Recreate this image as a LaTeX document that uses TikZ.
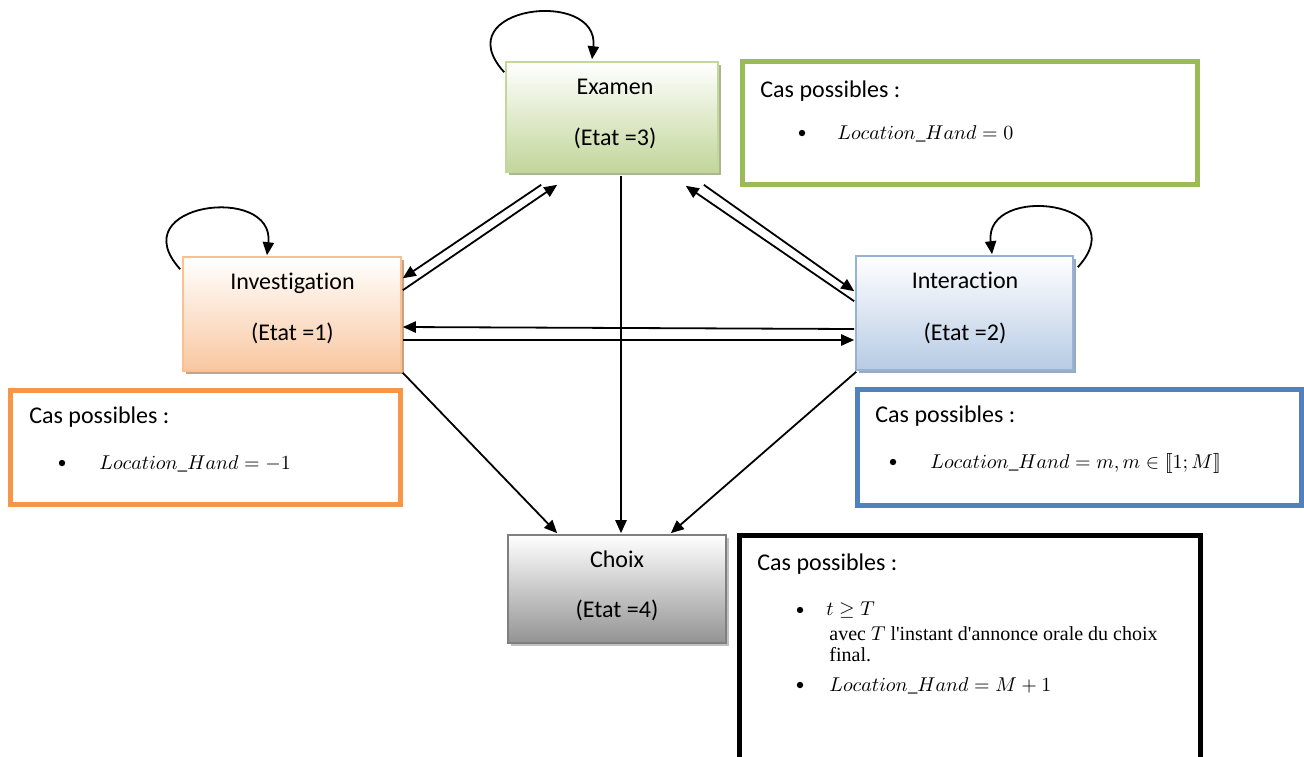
\documentclass[tikz,border=0pt]{standalone}
\usepackage{fontspec}
\setmainfont{Carlito}[Ligatures={NoCommon}]
\newfontfamily\serifnote{Liberation Serif}
\usetikzlibrary{arrows.meta,shadows,calc}

\definecolor{exline}{HTML}{C3D69B}
\definecolor{exfill}{HTML}{C2D69A}
\definecolor{exshadow}{HTML}{A8B78E}
\definecolor{invline}{HTML}{FAC08F}
\definecolor{invfill}{HTML}{F9C7A0}
\definecolor{invshadow}{HTML}{C9A283}
\definecolor{intline}{HTML}{95B3D7}
\definecolor{intfill}{HTML}{B7CBE4}
\definecolor{intshadow}{HTML}{9CA9BA}
\definecolor{chline}{HTML}{7F7F7F}
\definecolor{chfill}{HTML}{939393}
\definecolor{chshadow}{HTML}{C0C0C0}
\definecolor{casgreen}{HTML}{9BBB59}
\definecolor{casorange}{HTML}{F79646}
\definecolor{casblue}{HTML}{4F81BD}

\tikzset{
  stbox/.style n args={3}{draw=#1, line width=0.8pt, inner sep=0pt,
    top color=white, bottom color=#2,
    drop shadow={shadow xshift=1.6pt, shadow yshift=-1.6pt, fill=#3, opacity=1}},
  stlabel/.style={anchor=base, inner sep=0pt, font=\fontsize{12}{14}\selectfont},
  casbox/.style={draw=#1, line width=2.5pt, inner sep=0pt, fill=white},
  castitle/.style={anchor=base west, inner sep=0pt, font=\fontsize{12}{14}\selectfont},
  casmath/.style={anchor=base west, inner sep=0pt, font=\fontsize{9.7}{12}\selectfont},
  casnote/.style={anchor=base west, inner sep=0pt, font=\serifnote\fontsize{10}{12}\selectfont},
  bulletdot/.style={circle, fill=black, inner sep=0pt, minimum size=3.2pt},
  link/.style={draw=black, line width=0.9pt, -{Triangle[length=6.5pt, width=5.6pt]}},
}

\begin{document}
\begin{tikzpicture}[x=0.5pt, y=-0.5pt]
\clip (0,0) rectangle (1304,756);
\fill[white] (0,0) rectangle (1304,756);

% ---- state boxes ----
\node[stbox={exline}{exfill}{exshadow}, minimum width=106pt, minimum height=55pt] (ex) at (612,117) {};
\node[stbox={invline}{invfill}{invshadow}, minimum width=109pt, minimum height=57pt] (inv) at (292,314) {};
\node[stbox={intline}{intfill}{intshadow}, minimum width=108.5pt, minimum height=57pt] (int) at (964.5,313) {};
\node[stbox={chline}{chfill}{chshadow}, minimum width=109pt, minimum height=54pt] (ch) at (617,589) {};

\node[stlabel] (exname) at (615,94) {Examen};
\node[stlabel] (exstate) at (615,145) {(Etat =3)};
\node[stlabel] (invname) at (292.5,289) {Investigation};
\node[stlabel] (invstate) at (292.5,340) {(Etat =1)};
\node[stlabel] (intname) at (965,288) {Interaction};
\node[stlabel] (intstate) at (965,340) {(Etat =2)};
\node[stlabel] (chname) at (617,567) {Choix};
\node[stlabel] (chstate) at (617,617) {(Etat =4)};

% ---- transitions ----
\draw[link] ($(ex.south west)+(36,12)$) -- ($(inv.north east)+(1,22)$);
\draw[link] ($(inv.north east)+(1,34)$) -- ($(ex.south west)+(52,12)$);
\draw[link] ($(int.north west)+(-1,46)$) -- ($(ex.south east)+(-33,13)$);
\draw[link] ($(ex.south east)+(-15,12)$) -- ($(int.north west)+(-1,36)$);
\draw[link] ($(int.west)+(-1,16)$) -- ($(inv.east)+(1,13)$);
\draw[link] ($(inv.east)+(1,26)$) -- ($(int.west)+(-1,27)$);
\draw[link] ($(inv.south east)+(1,1)$) -- ($(ch.north west)+(50,-1)$);
\draw[link] ($(ex.south)+(9,3)$) -- ($(ch.north)+(4,-1)$);
\draw[link] ($(int.south west)+(1,1)$) -- ($(ch.north east)+(-56,-1)$);

% ---- self loops ----
\draw[link] ($(ex.north west)+(-1,11)$) .. controls +(-60,-66) and +(8,-72) .. ($(ex.north)+(-20,-2)$);
\draw[link] ($(inv.north west)+(-2,13)$) .. controls +(-60,-66) and +(8,-72) .. ($(inv.north)+(-25,-1)$);
\draw[link] ($(int.north east)+(4,12)$) .. controls +(60,-66) and +(-8,-72) .. ($(int.north)+(27.5,-1)$);

% ---- conditions per state ----
\node[casbox=casgreen, minimum width=227.5pt, minimum height=61.5pt] (casex) at (970,123) {};
\node[castitle] (casextitle) at (760,97) {Cas possibles :};
\node[bulletdot] (casexdot) at (802,133) {};
\node[casmath] (casexmath) at (837,139) {$Location\_Hand=0$};

\node[casbox=casorange, minimum width=195.25pt, minimum height=57pt] (casinv) at (205.25,447.5) {};
\node[castitle] (casinvtitle) at (29,423) {Cas possibles :};
\node[bulletdot] (casinvdot) at (62,463) {};
\node[casmath] (casinvmath) at (99,469) {$Location\_Hand=-1$};

\node[casbox=casblue, minimum width=222pt, minimum height=58pt] (casint) at (1079.5,447.5) {};
\node[castitle] (casinttitle) at (875,422) {Cas possibles :};
\node[bulletdot] (casintdot) at (893,462) {};
\node[casmath] (casintmath) at (930,468) {$Location\_Hand=m,m\in\mathopen{[\![}1;M\mathclose{]\!]}$};

\node[casbox=black, line width=2.75pt, minimum width=230.5pt, minimum height=127.25pt] (casch) at (970,662.75) {};
\node[castitle] (caschtitle) at (757,570) {Cas possibles :};
\node[bulletdot] (caschdota) at (800,610) {};
\node[casmath] (caschmatha) at (826,615) {$t\geq T$};
\node[casnote] (caschnotea) at (829,640) {avec $T$ l\textquotesingle instant d\textquotesingle annonce orale du choix};
\node[casnote] (caschnoteb) at (829,661) {final.};
\node[bulletdot] (caschdotb) at (800,685) {};
\node[casmath] (caschmathb) at (829,691) {$Location\_Hand=M+1$};
\end{tikzpicture}
\end{document}
